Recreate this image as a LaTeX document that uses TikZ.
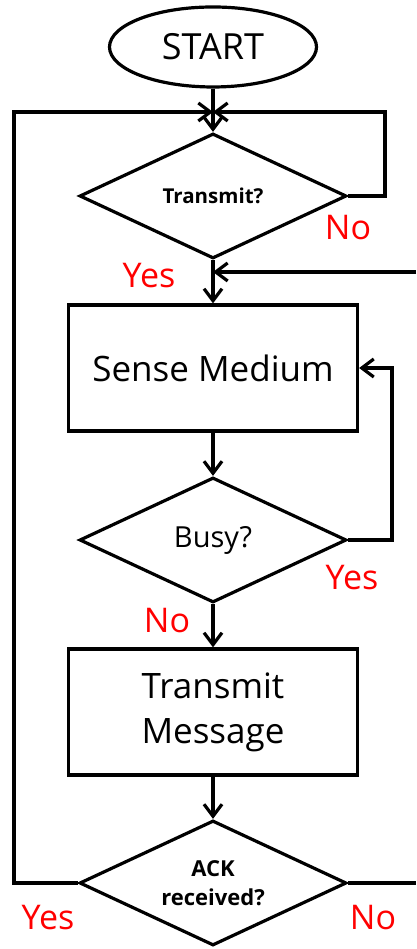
\documentclass[tikz,border=0pt]{standalone}
\usepackage{fontspec}
\setmainfont{Open Sans}
\usetikzlibrary{shapes.geometric,arrows.meta}
\begin{document}
\begin{tikzpicture}[x=1pt,y=1pt,line width=3.2pt,
  term/.style={ellipse,draw,minimum width=207pt,minimum height=80pt,inner sep=0pt,font=\fontsize{36}{43}\selectfont},
  proc/.style={rectangle,draw,minimum width=289pt,minimum height=126pt,align=center,font=\fontsize{35}{45}\selectfont},
  decide/.style={diamond,draw,minimum width=267pt,minimum height=125pt,inner sep=0pt,aspect=2,align=center},
  ans/.style={text=red,anchor=base,inner sep=0pt,font=\fontsize{34}{40}\selectfont},
  flow/.style={-{Straight Barb[length=12pt,width=18pt]}}]
\useasboundingbox (0,0) rectangle (416,949);
% flow chart boxes
\node[term] (start) at (213,902) {START};
\node[decide,font=\bfseries\fontsize{20.5}{25}\selectfont] (tx) at (213,753) {Transmit?};
\node[proc] (sense) at (213,581) {Sense Medium};
\node[decide,font=\fontsize{29}{35}\selectfont] (busy) at (213,409) {Busy?};
\node[proc] (msg) at (213,237) {Transmit\\Message};
\node[decide,font=\bfseries\fontsize{22}{29}\selectfont] (ack) at (213,66) {ACK\\received?};
% bends and loose ends of the loops
\coordinate (j1) at (213,837);
\coordinate (j2) at (213,677);
\coordinate (lft) at (14,837);
\coordinate (rgt) at (385,837);
\coordinate (busyr) at (392,581);
\coordinate (edge1) at (416,677);
\coordinate (edge2) at (416,66);
% connectors
\draw[flow] (start) -- (tx);
\draw[flow] (ack.west) -| (lft) -- (j1);
\draw[flow] (tx.east) -| (rgt) -- (j1);
\draw[flow] (tx) -- (sense);
\draw[flow] (edge1) -- (j2);
\draw[flow] (sense) -- (busy);
\draw[flow] (busy.east) -| (busyr) -- (sense.east);
\draw[flow] (busy) -- (msg);
\draw[flow] (msg) -- (ack);
\draw (ack.east) -- (edge2);
% branch labels
\node[ans] (txno) at (348,709) {No};
\node[ans] (txyes) at (149,661) {Yes};
\node[ans] (busyyes) at (352,359) {Yes};
\node[ans] (busyno) at (167,316) {No};
\node[ans] (ackyes) at (48,19) {Yes};
\node[ans] (ackno) at (373,19) {No};
\end{tikzpicture}
\end{document}
